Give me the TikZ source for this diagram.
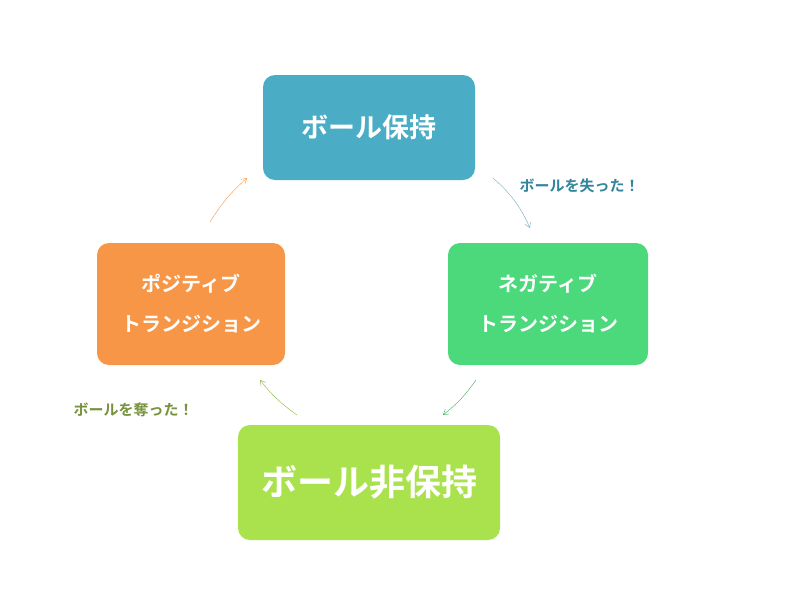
\documentclass[tikz,border=0pt]{standalone}
\usepackage{fontspec}
\setmainfont{Noto Sans CJK JP}[BoldFont={* Bold}]
\usetikzlibrary{arrows.meta}
\definecolor{keepblue}{HTML}{4BACC6}
\definecolor{neggreen}{HTML}{4CD97B}
\definecolor{offlime}{HTML}{A9E24C}
\definecolor{posorange}{HTML}{F79646}
\definecolor{lostcol}{HTML}{31859C}
\definecolor{woncol}{HTML}{76923C}
\tikzset{
  phase/.style={rounded corners=12pt,text=white,font=\bfseries,align=center,inner sep=0pt},
  turn/.style={-{Straight Barb[length=5pt,width=6pt]},thin}
}
\begin{document}
\begin{tikzpicture}[x=1pt,y=-1pt]
\useasboundingbox (0,0) rectangle (800,600);
\node[phase,fill=keepblue,minimum width=212pt,minimum height=105pt,font=\bfseries\fontsize{27}{32}\selectfont] (keep) at (369,127.5) {ボール保持};
\node[phase,fill=neggreen,minimum width=200pt,minimum height=122pt,font=\bfseries\fontsize{20}{40}\selectfont] (neg) at (548,304) {ネガティブ\\トランジション};
\node[phase,fill=offlime,minimum width=262pt,minimum height=115pt,font=\bfseries\fontsize{36}{40}\selectfont] (off) at (369,482.5) {ボール非保持};
\node[phase,fill=posorange,minimum width=188pt,minimum height=122pt,font=\bfseries\fontsize{20}{40}\selectfont] (pos) at (191,304) {ポジティブ\\トランジション};
\coordinate (a1) at (493,178); \coordinate (a2) at (530,228);
\coordinate (b1) at (476,380); \coordinate (b2) at (443,415);
\coordinate (c1) at (297,415); \coordinate (c2) at (260,380);
\coordinate (d1) at (210,222); \coordinate (d2) at (247,178);
\draw[turn,lostcol!70] (a1) to[bend left=12] (a2);
\draw[turn,neggreen!80!black] (b1) to[bend left=8] (b2);
\draw[turn,offlime!80!black] (c1) to[bend left=8] (c2);
\draw[turn,posorange] (d1) to[bend left=8] (d2);
\node[text=lostcol,font=\bfseries\fontsize{15}{18}\selectfont,anchor=west] (lost) at (516,186) {ボールを失った！};
\node[text=woncol,font=\bfseries\fontsize{15}{18}\selectfont,anchor=west] (won) at (70,410) {ボールを奪った！};
\end{tikzpicture}
\end{document}
